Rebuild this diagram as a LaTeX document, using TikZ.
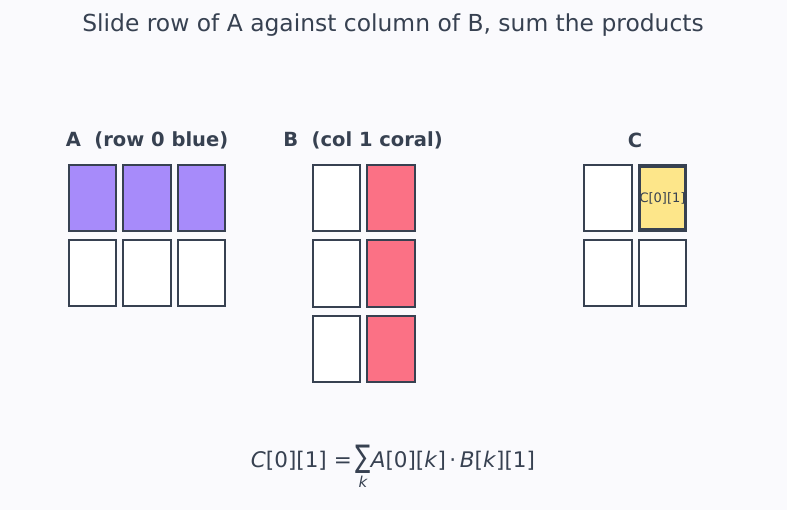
\documentclass[tikz,border=0pt]{standalone}
\usepackage{amsmath}
\usepackage{fontspec}
\setmainfont{DejaVu Sans}
\usepackage{tikz}

\definecolor{ink}{HTML}{374151}
\definecolor{bg}{HTML}{FAFAFD}
\definecolor{rowblue}{HTML}{A78BFA}
\definecolor{colcoral}{HTML}{FB7185}
\definecolor{hit}{HTML}{FDE68A}

\begin{document}
\begin{tikzpicture}
    [x=1pt, y=-1pt,
      cell/.style={draw = ink, line width = 2pt, fill = white,
        minimum width = 47.5pt, minimum height = 66.5pt, inner sep = 0pt},
      hot/.style={cell, fill = rowblue},
      coral/.style={cell, fill = colcoral},
      result/.style={cell, fill = hit, line width = 3.6pt,
        minimum width = 45.5pt, minimum height = 64.5pt},
      head/.style={text = ink, font = \bfseries\fontsize{19.5}{22}\selectfont}]
    \useasboundingbox[fill = bg] (0,0) rectangle (787,510);
    \node[text = ink, font = \fontsize{23.4}{27}\selectfont] (title) at (393,25)
      {Slide row of A against column of B, sum the products};

    % matrix A, row 0 filled
    \node[head] (labA) at (147,140) {A\ \ (row 0 blue)};
    \foreach \j in {0,1,2} {
      \node[hot]  (a0\j) at (92.5+54.5*\j,198) {};
      \node[cell] (a1\j) at (92.5+54.5*\j,273) {};
    }

    % matrix B, column 1 filled
    \node[head] (labB) at (363,140) {B\ \ (col 1 coral)};
    \foreach \i in {0,1,2} {
      \node[cell]  (b\i0) at (336.5,198+75.5*\i) {};
      \node[coral] (b\i1) at (391,198+75.5*\i) {};
    }

    % matrix C
    \node[head] (labC) at (635,140) {C};
    \node[cell] (c00) at (608,198) {};
    \node[result, text = ink, font = \fontsize{13}{15}\selectfont] (c01) at (662.5,198) {C[0][1]};
    \node[cell] (c10) at (608,273) {};
    \node[cell] (c11) at (662.5,273) {};

    \node[text = ink, font = \fontsize{21.5}{25}\selectfont, anchor = base] (formula) at (393,467)
      {\textit{C}[0][1]\,\,=\,$\mathop{\text{\scalebox{1.05}[1.45]{∑}}}\limits_{\text{\textit{k}}}$\textit{A}[0][\textit{k}]\,·\,\textit{B}[\textit{k}][1]};
  \end{tikzpicture}
\end{document}
